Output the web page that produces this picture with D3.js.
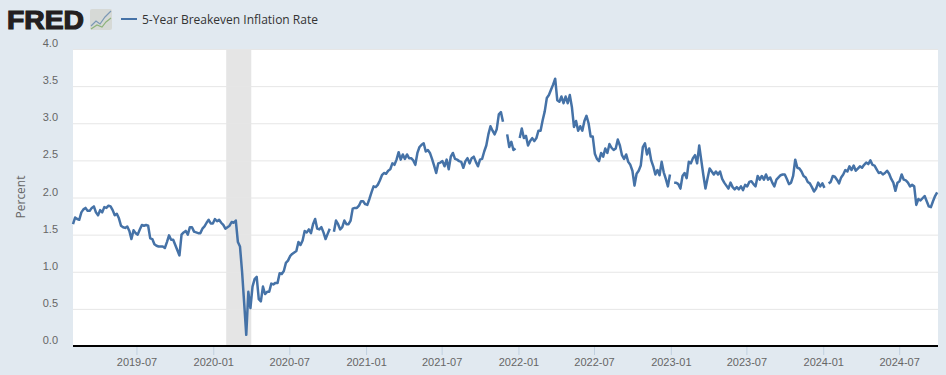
<!DOCTYPE html>
<html>
<head>
<meta charset="utf-8">
<title>5-Year Breakeven Inflation Rate</title>
<script src="https://d3js.org/d3.v7.min.js"></script>
<style>
    html, body { margin: 0; padding: 0; background: #e1e9f0; overflow: hidden; }
    svg { display: block; font-family: "Open Sans", sans-serif; }
</style>
</head>
<body>
<div id="chart"></div>
<script>
// Values, one reading every 5 days from the start date, null = gap in the line
const startDate = "2019-01-30";
const endDate = "2024-10-02";
const stepDays = 5;

const rates2019 = [1.64,1.73,1.71,1.70,1.80,1.84,1.86,1.82,1.82,1.86,1.88,1.80,1.76,1.83,1.80,1.87,1.86,1.89,1.88,1.83,1.76,1.78,1.72,1.62,1.60,1.59,1.61,1.55,1.44,1.56,1.52,1.50,1.57,1.63,1.62,1.63,1.62,1.45,1.44,1.37,1.35,1.34,1.34,1.34,1.32,1.40,1.49,1.43,1.43,1.36,1.29,1.22,1.50,1.53,1.55,1.50,1.60,1.60,1.54,1.53,1.52,1.52,1.58,1.61,1.66,1.70,1.65,1.65];
const rates2020 = [1.71,1.68,1.70,1.66,1.63,1.58,1.60,1.62,1.67,1.66,1.69,1.40,1.34,1.00,0.58,0.15,0.73,0.51,0.80,0.90,0.93,0.63,0.60,0.80,0.70,0.73,0.73,0.84,0.83,0.85,0.85,0.98,0.97,1.01,1.12,1.15,1.21,1.24,1.26,1.28,1.40,1.36,1.42,1.55,1.53,1.57,1.52,1.64,1.71,1.58,1.57,1.60,1.53,1.44,1.51,1.58,null,1.54,1.69,1.64,1.57,1.60,1.69,1.64,1.64,1.69,1.85,1.86,1.86,1.89,1.95,1.95];
const rates2021 = [1.91,1.90,1.98,2.07,2.15,2.14,2.17,2.23,2.30,2.33,2.32,2.36,2.38,2.46,2.44,2.51,2.61,2.51,2.58,2.52,2.58,2.53,2.53,2.50,2.44,2.60,2.68,2.71,2.73,2.62,2.64,2.60,2.52,2.43,2.33,2.46,2.47,2.49,2.42,2.51,2.38,2.55,2.60,2.52,2.51,2.49,2.48,2.40,2.49,2.53,2.46,2.53,2.55,2.48,2.42,2.51,2.52,2.62,2.70,2.85,2.96,2.90,2.85,2.92,3.12,3.15,3.02,null,2.85,2.68];
const rates2022 = [2.75,2.64,2.66,null,2.80,2.93,2.80,2.83,2.70,2.76,2.80,2.76,2.80,2.90,2.90,3.04,3.16,3.34,3.38,3.45,3.52,3.60,3.31,3.29,3.36,3.27,3.36,3.27,3.38,3.22,2.95,3.03,2.90,2.96,2.90,3.03,3.10,3.00,2.82,2.82,2.59,2.52,2.49,2.60,2.55,2.66,2.60,2.72,2.67,2.64,2.66,2.78,2.70,2.57,2.52,2.58,2.48,2.44,2.36,2.16,2.32,2.36,2.43,2.68,2.73,2.58,2.66];
const rates2023 = [2.50,2.42,2.31,2.37,2.30,2.48,2.34,2.25,2.15,2.31,null,2.20,2.20,2.18,2.12,2.29,2.33,2.26,2.48,2.46,2.53,2.57,2.46,2.70,2.50,2.30,2.12,2.26,2.39,2.35,2.31,2.35,2.31,2.35,2.25,2.20,2.16,2.12,2.20,2.14,2.11,2.14,2.11,2.15,2.10,2.17,2.15,2.21,2.22,2.18,2.15,2.29,2.24,2.29,2.24,2.31,2.24,2.27,2.20,2.15,2.24,2.27,2.30,2.31,2.31,2.25,2.18];
const rates2024 = [2.20,2.29,2.51,2.40,2.39,2.35,2.29,2.27,2.21,2.19,2.14,2.08,2.12,2.20,2.15,2.19,2.13,null,2.19,2.21,2.29,2.28,2.24,2.19,2.27,2.31,2.37,2.35,2.42,2.37,2.43,2.36,2.39,2.42,2.40,2.44,2.47,2.45,2.50,2.44,2.43,2.38,2.33,2.34,2.31,2.33,2.36,2.32,2.25,2.20,2.09,2.20,2.22,2.31,2.24,2.23,2.20,2.15,2.17,2.15,1.90,1.98,1.96,1.99,2.02,1.95,1.88,1.87,1.95,2.02,2.07];

const yTicks = [0, 0.5, 1, 1.5, 2, 2.5, 3, 3.5, 4];
const xTicks = ["2019-07-01","2020-01-01","2020-07-01","2021-01-01","2021-07-01","2022-01-01","2022-07-01","2023-01-01","2023-07-01","2024-01-01","2024-07-01"];
const recessions = [["2020-02-01", "2020-04-01"]];
const seriesName = "5-Year Breakeven Inflation Rate";
const yTitle = "Percent";

const width = 946;
const height = 375;
const margin = { top: 49, right: 8, bottom: 29, left: 73 };
const lineColor = "#4572a7";

const parseDate = d3.utcParse("%Y-%m-%d");
const rates = [].concat(rates2019, rates2020, rates2021, rates2022, rates2023, rates2024);
const first = parseDate(startDate);
const points = rates.map((v, i) => ({ date: d3.utcDay.offset(first, i * stepDays), value: v }));

const svg = d3.select("#chart").append("svg")
    .attr("width", width)
    .attr("height", height);

svg.append("rect")
    .attr("width", width)
    .attr("height", height)
    .attr("fill", "#e1e9f0");

const x = d3.scaleUtc()
    .domain([first, parseDate(endDate)])
    .range([margin.left, width - margin.right]);

const y = d3.scaleLinear()
    .domain([0, 4])
    .range([height - margin.bottom, margin.top]);

// Plot background
svg.append("rect")
    .attr("x", margin.left)
    .attr("y", margin.top)
    .attr("width", width - margin.left - margin.right)
    .attr("height", height - margin.top - margin.bottom)
    .attr("fill", "#ffffff");

// Recession band
svg.selectAll("rect.recession")
    .data(recessions)
    .enter().append("rect")
    .attr("class", "recession")
    .attr("x", d => x(parseDate(d[0])))
    .attr("y", margin.top)
    .attr("width", d => x(parseDate(d[1])) - x(parseDate(d[0])))
    .attr("height", height - margin.top - margin.bottom)
    .attr("fill", "#e5e5e5");

// Y axis with the gridlines, labels sit just above their line
const yAxis = svg.append("g")
    .attr("transform", `translate(${margin.left},0)`)
    .call(d3.axisLeft(y)
        .tickValues(yTicks)
        .tickSize(-(width - margin.left - margin.right))
        .tickFormat(d3.format(".1f")));
yAxis.select(".domain").remove();
yAxis.selectAll("line").attr("stroke", "#e6e6e6").attr("stroke-width", 1);
yAxis.selectAll("text")
    .attr("x", -15)
    .attr("dy", "-0.22em")
    .attr("fill", "#666666")
    .style("font-size", "11px");

// X axis
const xAxis = svg.append("g")
    .attr("transform", `translate(0,${height - margin.bottom})`)
    .call(d3.axisBottom(x)
        .tickValues(xTicks.map(parseDate))
        .tickSize(9)
        .tickPadding(3)
        .tickFormat(d3.utcFormat("%Y-%m")));
xAxis.select(".domain").remove();
xAxis.selectAll("line").attr("stroke", "#c0d0e0");
xAxis.selectAll("text")
    .attr("fill", "#666666")
    .style("font-size", "11px");

// Data line
const line = d3.line()
    .defined(d => d.value !== null)
    .x(d => x(d.date))
    .y(d => y(d.value));

svg.append("path")
    .datum(points)
    .attr("fill", "none")
    .attr("stroke", lineColor)
    .attr("stroke-width", 2.5)
    .attr("stroke-linejoin", "round")
    .attr("d", line);

// Heavy baseline sits over the bottom of the plot
svg.append("line")
    .attr("x1", margin.left)
    .attr("x2", width - margin.right)
    .attr("y1", height - margin.bottom)
    .attr("y2", height - margin.bottom)
    .attr("stroke", "#000000")
    .attr("stroke-width", 2);

// Y axis title
svg.append("text")
    .attr("transform", "translate(25,197) rotate(-90)")
    .attr("text-anchor", "middle")
    .attr("fill", "#666666")
    .style("font-size", "12px")
    .text(yTitle);

// FRED logo
svg.append("text")
    .attr("x", 7)
    .attr("y", 29)
    .attr("fill", "#231f20")
    .attr("stroke", "#231f20")
    .attr("stroke-width", 1.2)
    .attr("textLength", 77)
    .attr("lengthAdjust", "spacingAndGlyphs")
    .style("font-family", "'Liberation Sans', sans-serif")
    .style("font-weight", "bold")
    .style("font-size", "26px")
    .text("FRED");

svg.append("rect")
    .attr("x", 90)
    .attr("y", 9)
    .attr("width", 22)
    .attr("height", 21)
    .attr("rx", 2)
    .attr("fill", "#d6d9d6");

svg.append("path")
    .attr("d", "M91,26 L96,21 L100,24 L105,17 L111,11")
    .attr("fill", "none")
    .attr("stroke", "#7b98b5")
    .attr("stroke-width", 1.2);

svg.append("path")
    .attr("d", "M91,29 L97,25 L102,27 L106,22 L111,18")
    .attr("fill", "none")
    .attr("stroke", "#8db37a")
    .attr("stroke-width", 1.2);

// Legend
svg.append("line")
    .attr("x1", 121)
    .attr("x2", 137)
    .attr("y1", 19)
    .attr("y2", 19)
    .attr("stroke", lineColor)
    .attr("stroke-width", 2);

svg.append("text")
    .attr("x", 142)
    .attr("y", 24)
    .attr("fill", "#333333")
    .attr("textLength", 176)
    .attr("lengthAdjust", "spacingAndGlyphs")
    .style("font-size", "12px")
    .text(seriesName);
</script>
</body>
</html>
